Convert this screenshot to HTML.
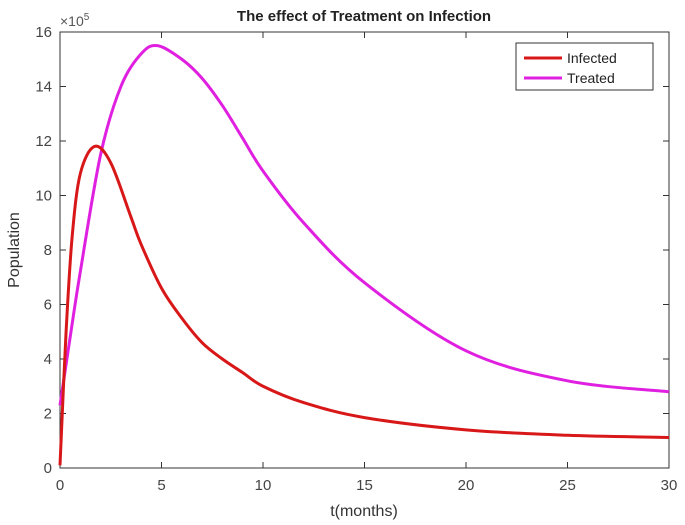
<!DOCTYPE html>
<html><head><meta charset="utf-8"><style>
body{margin:0;background:#fff;}
svg{display:block;font-family:"Liberation Sans",Arial,sans-serif;}
</style></head><body>
<svg id="chart" width="685" height="525">
<rect width="685" height="525" fill="#fff"/>
<text x="364" y="21" text-anchor="middle" font-size="15" font-weight="bold" fill="#222">The effect of Treatment on Infection</text>
<text x="364" y="516" text-anchor="middle" font-size="16" fill="#333">t(months)</text>
<text transform="translate(19,250) rotate(-90)" text-anchor="middle" font-size="16" fill="#333">Population</text>
<text x="60" y="26" font-size="14" fill="#555">×10<tspan font-size="10" dy="-6">5</tspan></text>
<g id="axes"></g>
<g id="series"></g>
<g>
<rect x="516" y="43" width="137" height="47" fill="#fff" stroke="#333" stroke-width="1"/>
<line x1="524" y1="58" x2="562" y2="58" stroke="#d81818" stroke-width="3"/>
<text x="567" y="63" font-size="14" fill="#222">Infected</text>
<line x1="524" y1="78" x2="562" y2="78" stroke="#e020e0" stroke-width="3"/>
<text x="567" y="83" font-size="14" fill="#222">Treated</text>
</g>
</svg>
<script>
const xTicks=[0,5,10,15,20,25,30];
const yTicks=[0,2,4,6,8,10,12,14,16];
const tInfected=[0,0.3,0.6,1,1.7,2.5,3.5,4,5,6,7,8,9,10,12,15,20,25,30];
const infected=[0.1,5,8.5,10.8,11.8,11.2,9.2,8.2,6.6,5.5,4.6,4.0,3.5,3.0,2.4,1.85,1.4,1.2,1.12];
const tTreated=[0,0.5,1,2,3,4,4.8,6,7,8,9,10,12,15,20,25,30];
const treated=[2.3,4.8,7.2,11.5,14.0,15.2,15.5,15.0,14.3,13.3,12.1,10.9,9.0,6.8,4.3,3.2,2.8];
const L=60,R=669,T=32,B=468;
const X=v=>L+(v-0)/(30-0)*(R-L);
const Y=v=>B-(v-0)/(16-0)*(B-T);
const NS="http://www.w3.org/2000/svg";
const ax=document.getElementById('axes');
function mk(tag,at,parent){const e=document.createElementNS(NS,tag);for(const k in at)e.setAttribute(k,at[k]);parent.appendChild(e);return e;}
const frame=mk('rect',{x:L,y:T,width:R-L,height:B-T,fill:'none',stroke:'#333','stroke-width':1},ax);


xTicks.forEach(v=>{
 const l=mk('line',{x1:X(v),x2:X(v),y1:B,y2:B-6,stroke:'#333'},ax);
 
 
 mk('line',{x1:X(v),x2:X(v),y1:T,y2:T+6,stroke:'#333'},ax);
 const t=mk('text',{x:X(v),y:B+22,'text-anchor':'middle','font-size':15,fill:'#444'},ax);
 t.textContent=v;
 
 
});
yTicks.forEach(v=>{
 const l=mk('line',{x1:L,x2:L+6,y1:Y(v),y2:Y(v),stroke:'#333'},ax);
 
 
 mk('line',{x1:R,x2:R-6,y1:Y(v),y2:Y(v),stroke:'#333'},ax);
 const t=mk('text',{x:L-8,y:Y(v)+5,'text-anchor':'end','font-size':15,fill:'#444'},ax);
 t.textContent=v;
 
 
});
function path(ts,vs){
 const p=ts.map((t,i)=>[X(t),Y(vs[i])]);
 let d='M'+p[0][0]+','+p[0][1];
 for(let i=0;i<p.length-1;i++){
  const p0=p[Math.max(0,i-1)],p1=p[i],p2=p[i+1],p3=p[Math.min(p.length-1,i+2)];
  const c1=[p1[0]+(p2[0]-p0[0])/6,p1[1]+(p2[1]-p0[1])/6];
  const c2=[p2[0]-(p3[0]-p1[0])/6,p2[1]-(p3[1]-p1[1])/6];
  d+=' C'+c1+' '+c2+' '+p2;
 }
 return d;
}
const s=document.getElementById('series');
const pt=mk('path',{d:path(tTreated,treated),fill:'none',stroke:'#e020e0','stroke-width':3},s);


const pi=mk('path',{d:path(tInfected,infected),fill:'none',stroke:'#d81818','stroke-width':3},s);


</script>
</body></html>
